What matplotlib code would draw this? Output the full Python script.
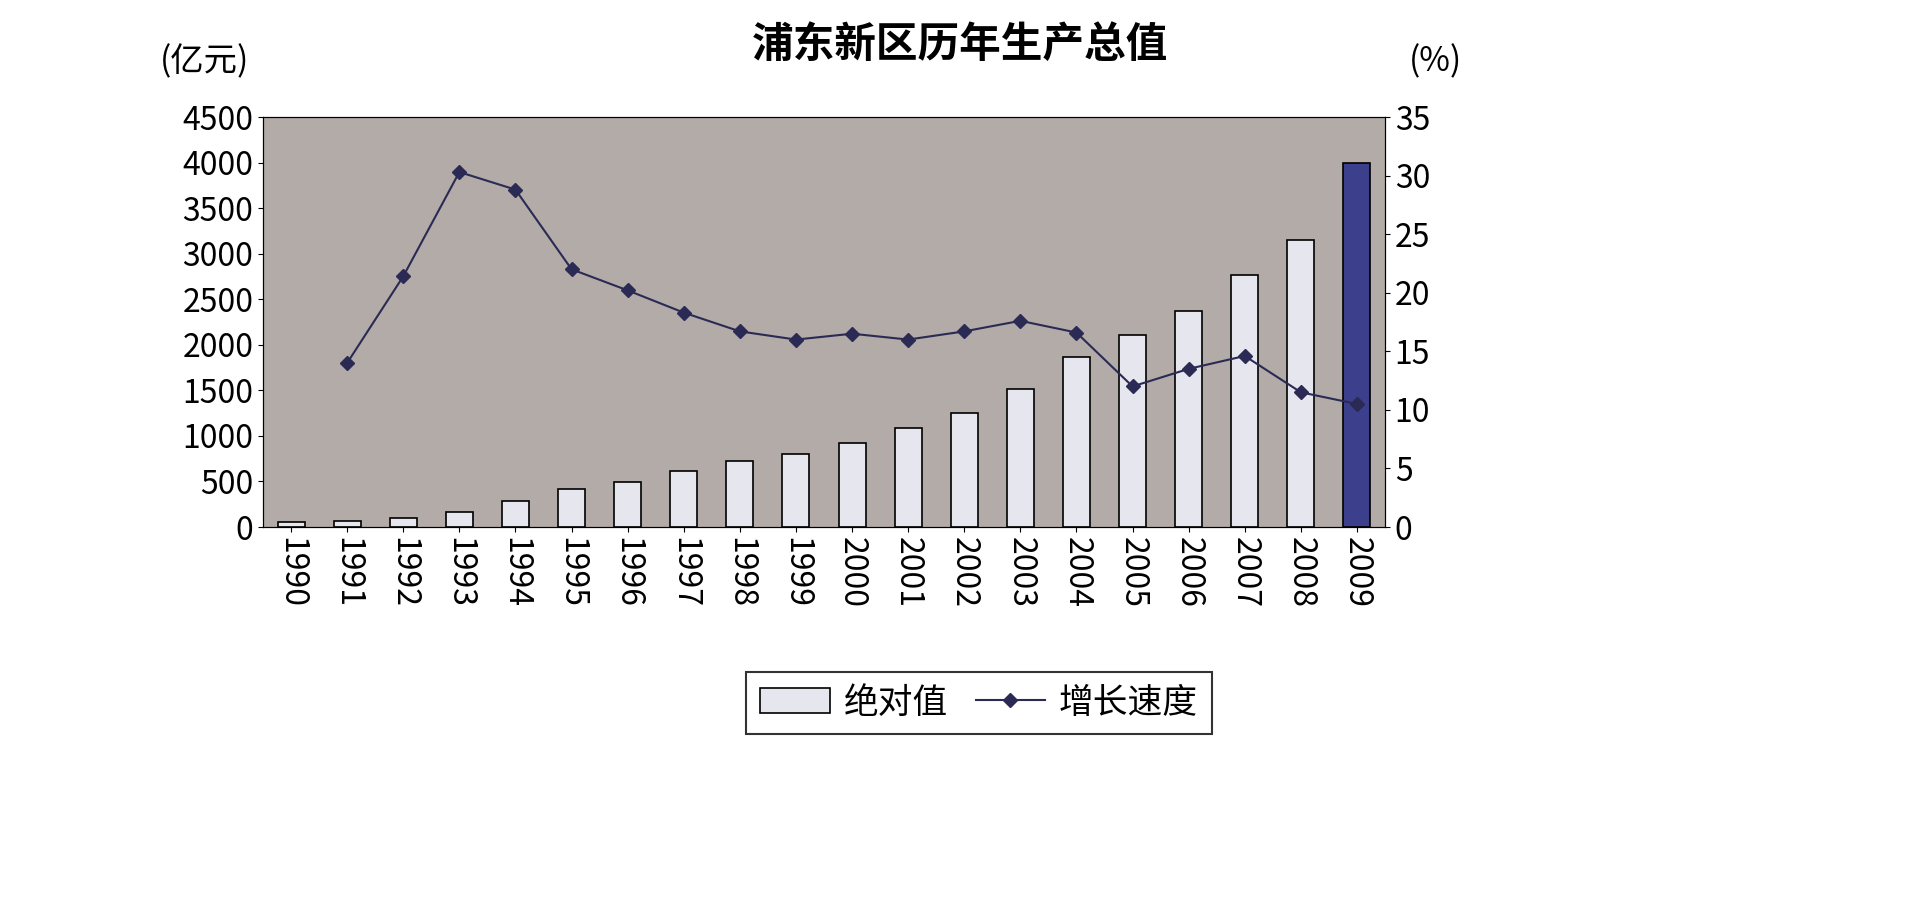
import numpy as np
import matplotlib
matplotlib.use("Agg")
from matplotlib import pyplot as plt

plt.rcParams['font.family'] = ['Noto Sans CJK SC', 'DejaVu Sans']

years = ['1990', '1991', '1992', '1993', '1994', '1995', '1996', '1997', '1998', '1999',
         '2000', '2001', '2002', '2003', '2004', '2005', '2006', '2007', '2008', '2009']
gdp = [60, 70, 100, 165, 290, 415, 490, 610, 720, 800,
       925, 1085, 1250, 1510, 1870, 2110, 2370, 2770, 3150, 4000]
growth = [np.nan, 14.0, 21.4, 30.3, 28.8, 22.0, 20.2, 18.3, 16.7, 16.0,
          16.5, 16.0, 16.7, 17.6, 16.6, 12.0, 13.5, 14.6, 11.5, 10.5]

fig = plt.figure(figsize=(19.2, 9.15), dpi=100)
ax = fig.add_axes([263/1920, 1-527/915, (1385-263)/1920, (527-117)/915])
ax.set_facecolor('#b3aba7')
x = np.arange(len(years))
colors = ['#e6e6ee'] * (len(years) - 1) + ['#3b3f8c']
ax.bar(x, gdp, width=0.48, color=colors, edgecolor='black', linewidth=1.2, label='绝对值', zorder=2)
ax.set_xlim(-0.5, len(years) - 0.5)
ax.set_ylim(0, 4500)
ax.set_yticks(range(0, 4501, 500))
ax.set_xticks(x)
ax.set_xticklabels(years, rotation=-90, fontsize=23)
ax.tick_params(axis='y', labelsize=23)

ax2 = ax.twinx()
ax2.plot(x, growth, color='#2a2a55', marker='D', markersize=7, linewidth=1.5, label='增长速度')
ax2.set_ylim(0, 35)
ax2.set_yticks(range(0, 36, 5))
ax2.tick_params(axis='y', labelsize=23)

fig.text(0.5, 1-45/915, '浦东新区历年生产总值', ha='center', va='center', fontsize=30, fontweight='bold')
fig.text(205/1920, 1-62/915, '(亿元)', ha='center', va='center', fontsize=24)
fig.text(1435/1920, 1-62/915, '(%)', ha='center', va='center', fontsize=24)

h1, l1 = ax.get_legend_handles_labels()
h2, l2 = ax2.get_legend_handles_labels()
leg = fig.legend(h1 + h2, l1 + l2, loc='center', bbox_to_anchor=(0.51, 1-703/915),
                 ncol=2, fontsize=25, frameon=True, fancybox=False, edgecolor='black',
                 columnspacing=0.8, handletextpad=0.4)
leg.get_frame().set_linewidth(1.5)

fig.savefig('out.png', dpi=100)
